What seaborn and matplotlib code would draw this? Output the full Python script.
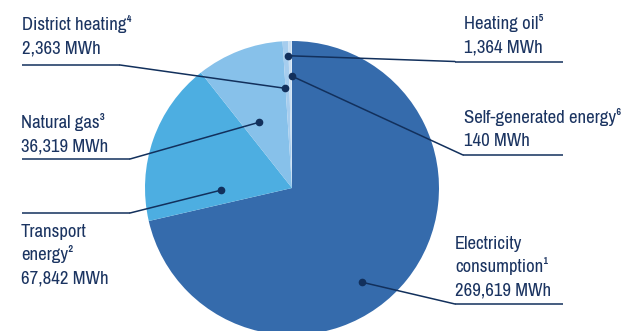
import matplotlib
matplotlib.use("Agg")
import matplotlib.pyplot as plt
from matplotlib import font_manager
import seaborn as sns
import numpy as np

# ---- data ----
categories = ["Electricity consumption", "Transport energy", "Natural gas",
              "District heating", "Heating oil", "Self-generated energy"]
values_mwh = [269619, 67842, 36319, 2363, 1364, 140]
label_lines = [
    ["Electricity", "consumption\u00b9", "269,619 MWh"],
    ["Transport", "energy\u00b2", "67,842 MWh"],
    ["Natural gas\u00b3", "36,319 MWh"],
    ["District heating\u2074", "2,363 MWh"],
    ["Heating oil\u2075", "1,364 MWh"],
    ["Self-generated energy\u2076", "140 MWh"],
]

# ---- style ----
sns.set_style("white")

# look for a narrow / condensed sans face if one is installed
narrow_family, narrow_stretch = None, "normal"
for f in font_manager.fontManager.ttflist:
    n = f.name
    if ("Narrow" in n or "Condensed" in n) and "Mono" not in n and "Serif" not in n:
        narrow_family = n
        break
if narrow_family is None:
    for f in font_manager.fontManager.ttflist:
        st = f.stretch
        if f.name in ("Noto Sans", "Open Sans", "Roboto", "Inter") and f.style == "normal" \
                and (st in ("condensed", "semi-condensed") or (isinstance(st, int) and st < 500)):
            narrow_family, narrow_stretch = f.name, st
            break

if narrow_family is not None:
    plt.rcParams['font.family'] = [narrow_family, 'DejaVu Sans']
    fsize = 13.5
else:
    plt.rcParams['font.family'] = ['Liberation Sans', 'DejaVu Sans']
    fsize = 11.2

colors = sns.color_palette(["#356BAC", "#4DAEE1", "#87C1EA", "#A6CDEE", "#C9DFF3", "#E6F0FA"])
text_col = "#1B3461"
line_col = "#12305C"

W, H = 627, 331
fig = plt.figure(figsize=(W / 100, H / 100), dpi=100)
ax = fig.add_axes([0, 0, 1, 1])

cx, cy, R = 292, H - 188, 147
wedges, _ = ax.pie(values_mwh, colors=colors, startangle=90, counterclock=False,
                   center=(cx, cy), radius=R, frame=True,
                   wedgeprops=dict(linewidth=0))
ax.set_xlim(0, W)
ax.set_ylim(0, H)
ax.set_aspect("equal")
ax.axis("off")

# layout: anchor (angle deg, radius frac), text x, first baseline (px from top),
# underline y (px from top), underline x range, elbow x
layout = [
    dict(ang=-53.3, rf=0.80, tx=455, ty=249, uy=304, ux=(455, 563), ex=455),
    dict(ang=181.8, rf=0.485, tx=21, ty=237, uy=213, ux=(22, 130), ex=130),
    dict(ang=116.6, rf=0.50, tx=21, ty=128, uy=159, ux=(22, 130), ex=130),
    dict(ang=94.0, rf=0.68, tx=22, ty=30, uy=65, ux=(22, 120), ex=120),
    dict(ang=91.6, rf=0.90, tx=464, ty=29, uy=61.5, ux=(455, 563), ex=455),
    dict(ang=89.9, rf=0.76, tx=464, ty=123, uy=155, ux=(463, 563), ex=463),
]
lh = 23.3

for lines, lay in zip(label_lines, layout):
    a = np.deg2rad(lay["ang"])
    px = cx + lay["rf"] * R * np.cos(a)
    py = cy + lay["rf"] * R * np.sin(a)
    uy = H - lay["uy"]
    ax.plot([lay["ux"][0], lay["ux"][1]], [uy, uy], color=line_col, lw=1.1,
            solid_capstyle="butt")
    ax.plot([px, lay["ex"]], [py, uy], color=line_col, lw=1.1)
    ax.plot([px], [py], "o", color=line_col, ms=4.5)
    for i, t in enumerate(lines):
        ax.text(lay["tx"], H - (lay["ty"] + i * lh), t, color=text_col,
                fontsize=fsize, va="baseline", ha="left", fontstretch=narrow_stretch)

fig.savefig("out.png", dpi=100)
